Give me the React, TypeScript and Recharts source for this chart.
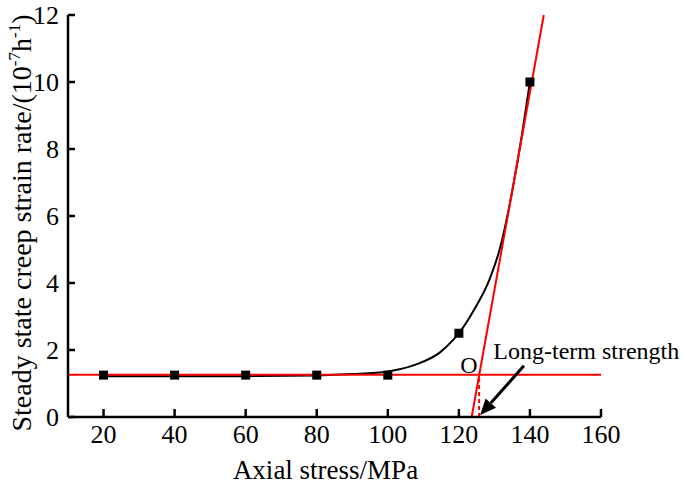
import React from "react";
import {
  ComposedChart,
  Line,
  Scatter,
  XAxis,
  YAxis,
  ReferenceLine,
  ReferenceDot,
} from "recharts";

// Measured points (axial stress MPa, steady-state creep rate 10^-7 h^-1)
const pointX = [20, 40, 60, 80, 100, 120, 140];
const pointY = [1.25, 1.25, 1.25, 1.25, 1.25, 2.5, 10];

// Fitted curve
const curveX = [20, 40, 60, 80, 90, 100, 108, 114.7, 118.4, 120, 124, 128.8, 131.6, 134.4, 138, 140];
const curveY = [1.22, 1.22, 1.22, 1.24, 1.28, 1.36, 1.57, 1.93, 2.3, 2.5, 3.15, 4.15, 5.05, 6.4, 8.6, 10];

// Construction lines
const horizLevel = 1.26;
const steepLine = [
  { x: 123.6, y: 0 },
  { x: 143.9, y: 12 },
];
const strengthX = 125.7;
const arrowFrom = { x: 138.3, y: 1.53 };
const arrowTo = { x: 126.0, y: 0.06 };
const labelO = { x: 122.8, y: 1.31 };
const labelStrength = { x: 129.7, y: 1.72 };

const xTicks = [20, 40, 60, 80, 100, 120, 140, 160];
const yTicks = [0, 2, 4, 6, 8, 10, 12];

const curveData = curveX.map((x, i) => ({ x, y: curveY[i] }));
const pointData = pointX.map((x, i) => ({ x, y: pointY[i] }));

const FONT = "Liberation Serif, Times New Roman, serif";

const SquareShape = (p: any) => (
  <rect x={p.cx - 4.5} y={p.cy - 4.5} width={9} height={9} fill="#000" />
);

const YLabel = (props: any) => {
  const vb = props.viewBox || { x: 0, y: 15, width: 68, height: 402 };
  const cx = vb.x + 31;
  const cy = vb.y + vb.height / 2 + 7;
  return (
    <text
      x={cx}
      y={cy}
      transform={`rotate(-90 ${cx} ${cy})`}
      textAnchor="middle"
      style={{ fontFamily: FONT, fontSize: 28 }}
      fill="#000"
    >
      Steady state creep strain rate/(10
      <tspan style={{ fontSize: 17 }} dy={-11}>-7</tspan>
      <tspan dy={11}>h</tspan>
      <tspan style={{ fontSize: 17 }} dy={-11}>-1</tspan>
      <tspan dy={11}>)</tspan>
    </text>
  );
};

const XLabel = (props: any) => {
  const vb = props.viewBox || { x: 68, y: 417, width: 533, height: 70 };
  return (
    <text
      x={vb.x + vb.width / 2 - 9}
      y={vb.y + 62}
      textAnchor="middle"
      style={{ fontFamily: FONT, fontSize: 27 }}
      fill="#000"
    >
      Axial stress/MPa
    </text>
  );
};

const ArrowShape = (p: any) => {
  const x1 = p.x1, y1 = p.y1, x2 = p.x2, y2 = p.y2;
  const dx = x2 - x1;
  const dy = y2 - y1;
  const len = Math.sqrt(dx * dx + dy * dy) || 1;
  const ux = dx / len;
  const uy = dy / len;
  const headL = 16;
  const headW = 7;
  const bx = x2 - ux * headL;
  const by = y2 - uy * headL;
  const px = -uy;
  const py = ux;
  return (
    <g>
      <line x1={x1} y1={y1} x2={bx} y2={by} stroke="#000" strokeWidth={3} />
      <polygon
        points={`${x2},${y2} ${bx + px * headW},${by + py * headW} ${bx - px * headW},${by - py * headW}`}
        fill="#000"
      />
    </g>
  );
};

const textShape = (txt: string, anchor: "start" | "middle", size: number) => (p: any) => (
  <text x={p.cx} y={p.cy} textAnchor={anchor} style={{ fontFamily: FONT, fontSize: size }} fill="#000">
    {txt}
  </text>
);

const tickStyle = { fill: "#000", fontSize: 26, fontFamily: FONT, style: { fontFamily: FONT, fontSize: 26 } };

export default function App() {
  return (
    <div style={{ position: "absolute", left: 0, top: 0, background: "#fff", fontFamily: FONT }}>
      <ComposedChart
        width={685}
        height={487}
        margin={{ top: 15, right: 84, bottom: 0, left: 0 }}
        style={{ fontFamily: FONT }}
      >
        <XAxis
          dataKey="x"
          type="number"
          domain={[10, 160]}
          ticks={xTicks}
          allowDataOverflow
          height={70}
          tickSize={-8}
          tickMargin={16}
          axisLine={{ stroke: "#000", strokeWidth: 2.5 }}
          tickLine={{ stroke: "#000", strokeWidth: 2.5 }}
          tick={tickStyle}
          label={<XLabel />}
        />
        <YAxis
          dataKey="y"
          type="number"
          domain={[0, 12]}
          ticks={yTicks}
          allowDataOverflow
          width={68}
          tickSize={-7}
          tickMargin={16}
          axisLine={{ stroke: "#000", strokeWidth: 2.5 }}
          tickLine={{ stroke: "#000", strokeWidth: 2.5 }}
          tick={tickStyle}
          label={<YLabel />}
        />
        <Line
          data={curveData}
          dataKey="y"
          type="monotone"
          stroke="#000"
          strokeWidth={2}
          dot={false}
          activeDot={false}
          isAnimationActive={false}
        />
        <Scatter
          data={pointData}
          dataKey="y"
          fill="#000"
          shape={SquareShape}
          isAnimationActive={false}
        />
        <ReferenceLine
          y={horizLevel}
          stroke="#ff0000"
          strokeWidth={2}
        />
        <ReferenceLine
          segment={steepLine}
          stroke="#ff0000"
          strokeWidth={2}
        />
        <ReferenceLine
          segment={[
            { x: strengthX, y: 0 },
            { x: strengthX, y: horizLevel },
          ]}
          stroke="#ff0000"
          strokeWidth={2}
          strokeDasharray="4 3"
        />
        <ReferenceLine
          segment={[arrowFrom, arrowTo]}
          shape={ArrowShape}
        />
        <ReferenceDot
          x={labelO.x}
          y={labelO.y}
          r={0}
          shape={textShape("O", "middle", 24)}
        />
        <ReferenceDot
          x={labelStrength.x}
          y={labelStrength.y}
          r={0}
          shape={textShape("Long-term strength", "start", 24)}
        />
      </ComposedChart>
    </div>
  );
}
